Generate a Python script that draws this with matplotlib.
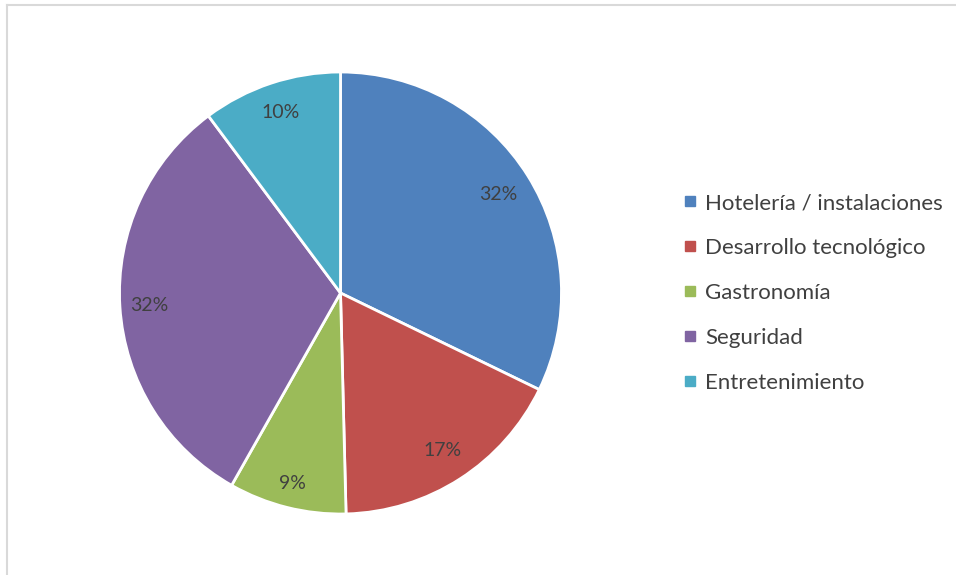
import numpy as np
import matplotlib.pyplot as plt
from matplotlib.lines import Line2D

# datos (tamaño de cada sector, en %)
categorias = ['Hotelería / instalaciones', 'Desarrollo tecnológico', 'Gastronomía',
              'Seguridad', 'Entretenimiento']
porcentajes = [32.2, 17.4, 8.6, 31.6, 10.2]
colores = ['#4F81BD', '#C0504D', '#9BBB59', '#8064A2', '#4BACC6']
dist_etiquetas = [0.84, 0.85, 0.89, 0.865, 0.86]

plt.rcParams['font.family'] = ['Lato', 'DejaVu Sans']

fig = plt.figure(figsize=(9.56, 5.75), dpi=100)
W, H = 956, 575

# marco gris (arriba e izquierda)
fig.add_artist(Line2D([7 / W, 1], [1 - 5 / H, 1 - 5 / H], color='#d9d9d9', lw=1.5))
fig.add_artist(Line2D([7 / W, 7 / W], [0, 1 - 5 / H], color='#d9d9d9', lw=1.5))

cx, cy, r = 340.5, 293, 221
ax = fig.add_axes([(cx - r) / W, (H - cy - r) / H, 2 * r / W, 2 * r / H])

wedges, texts, autotexts = ax.pie(
    porcentajes, colors=colores, startangle=90, counterclock=False,
    autopct='%1.0f%%', pctdistance=0.85, radius=1,
    wedgeprops=dict(edgecolor='white', linewidth=2),
    textprops=dict(color='#404040', fontsize=14))

# colocar cada porcentaje a su distancia
for w, t, d in zip(wedges, autotexts, dist_etiquetas):
    ang = np.deg2rad((w.theta1 + w.theta2) / 2)
    t.set_position((d * np.cos(ang), d * np.sin(ang)))

ax.set_xlim(-1, 1)
ax.set_ylim(-1, 1)
ax.set_aspect('equal')
ax.axis('off')

handles = [Line2D([], [], marker='s', linestyle='none', markersize=7,
                  markerfacecolor=c, markeredgecolor=c) for c in colores]
fig.legend(handles, categorias, loc='upper left',
           bbox_to_anchor=(672 / W, 1 - 182 / H), frameon=False,
           fontsize=16, labelcolor='#404040', handlelength=0.6,
           handletextpad=0.38, labelspacing=1.12, borderpad=0)

fig.savefig('out.png', dpi=100)
